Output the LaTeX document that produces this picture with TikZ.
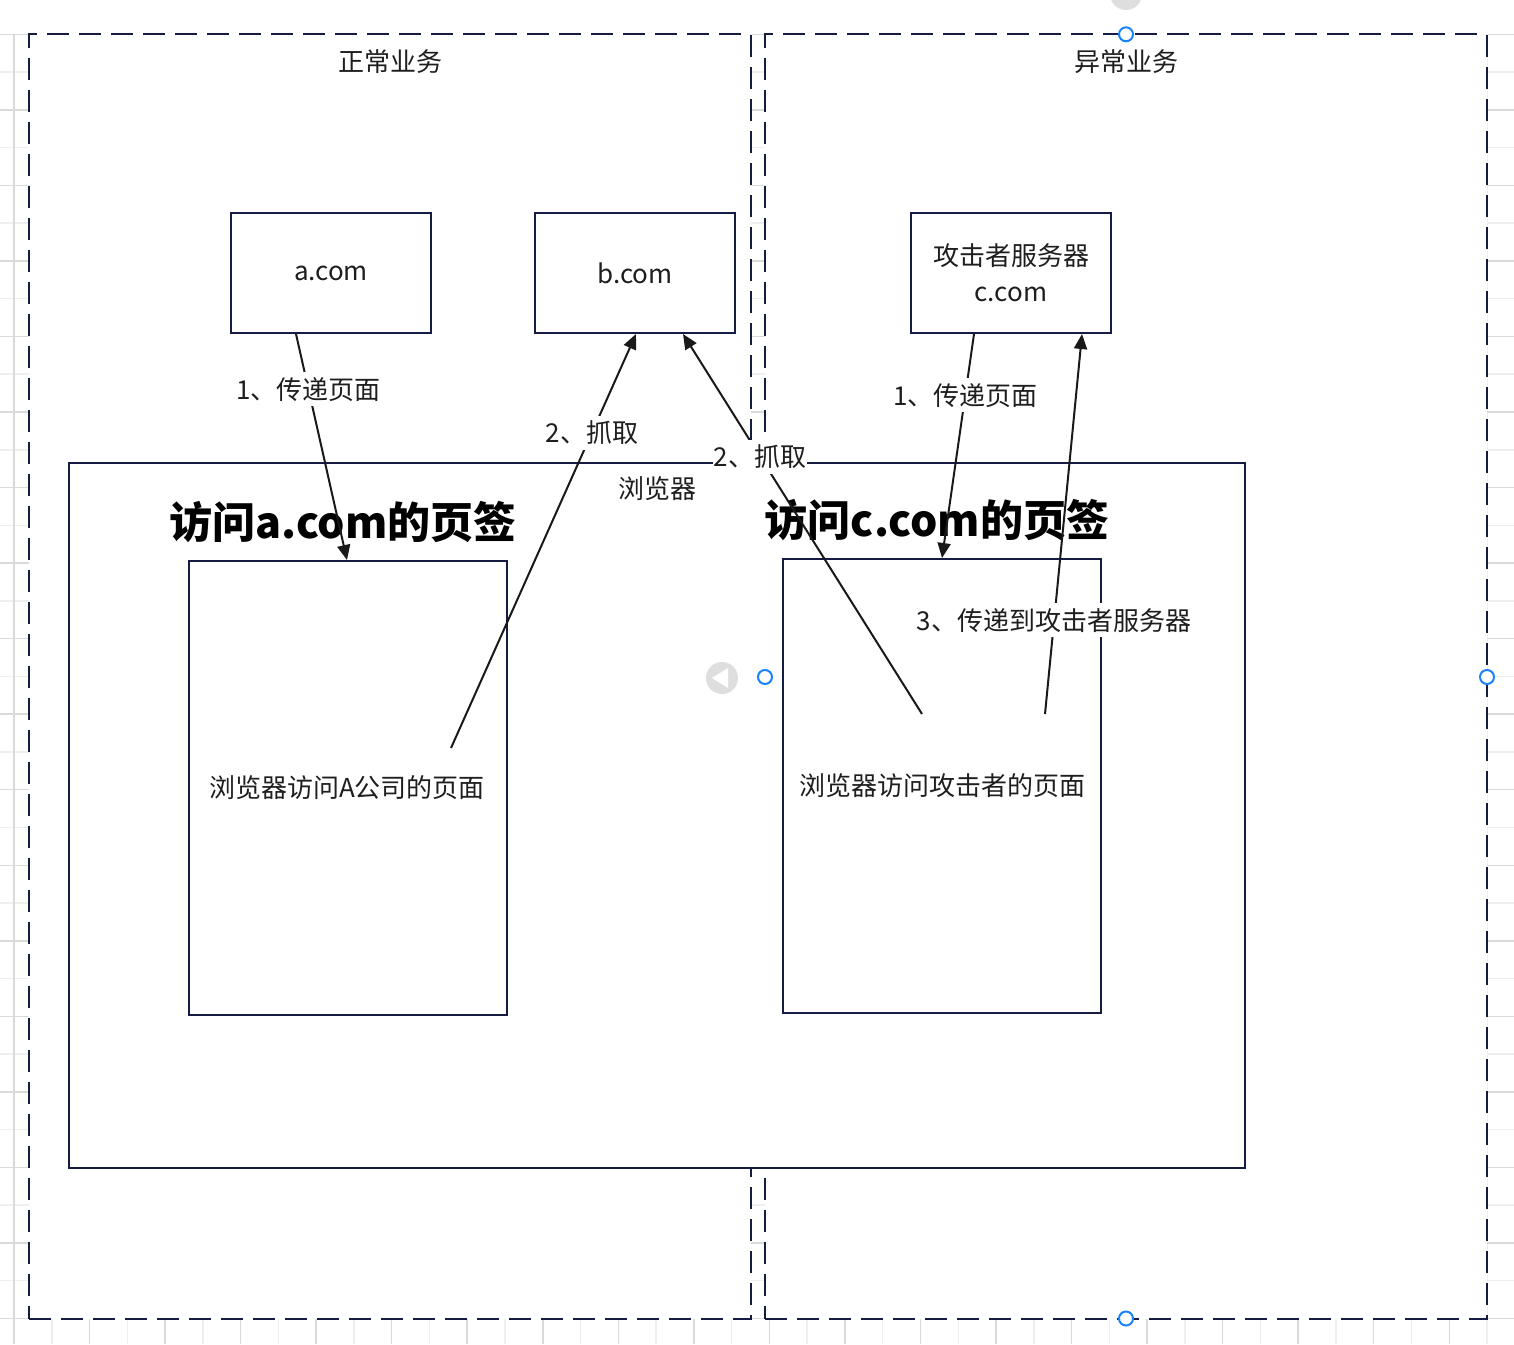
\documentclass[tikz,border=0pt]{standalone}
\usepackage{fontspec}
\setmainfont{Noto Sans CJK SC}
\usetikzlibrary{arrows.meta}
\definecolor{navy}{RGB}{22,27,68}
\definecolor{txt}{RGB}{30,30,30}
\definecolor{gdark}{RGB}{218,218,218}
\definecolor{glight}{RGB}{238,238,238}
\definecolor{hblue}{RGB}{26,130,250}
\definecolor{hgray}{RGB}{222,222,222}
\tikzset{
  dashbox/.style={draw=navy, line width=2pt, fill=white, dash pattern=on 22pt off 10pt, inner sep=0pt},
  solidbox/.style={draw=navy, line width=2pt, fill=white, inner sep=0pt, text=txt, font=\fontsize{26}{36}\selectfont, align=center},
  plaintext/.style={text=txt, font=\fontsize{26}{31}\selectfont, inner sep=0pt},
  titletext/.style={text=black, font=\fontsize{43}{50}\selectfont\bfseries, inner sep=0pt},
  conn/.style={draw=black!90, line width=2pt, -{Triangle[length=15pt,width=13pt]}},
  lbl/.style={fill=white, text=txt, font=\fontsize{26}{31}\selectfont, inner xsep=1pt, inner ysep=5pt},
  handle/.style={circle, draw=hblue, line width=2pt, fill=white, minimum size=14pt, inner sep=0pt},
}
\begin{document}
\begin{tikzpicture}[x=1pt,y=-1pt]
\useasboundingbox (0,0) rectangle (1514,1344);
\clip (0,0) rectangle (1514,1344);
% background grid
\foreach \k in {1,3,...,39} \draw[glight, line width=1.5pt] ({14+37.77*\k},34.3) -- ({14+37.77*\k},1344);
\foreach \k in {1,3,...,33} \draw[glight, line width=1.5pt] (0,{34.3+37.77*\k}) -- (1514,{34.3+37.77*\k});
\foreach \k in {0,2,...,38} \draw[gdark, line width=1.5pt] ({14+37.77*\k},34.3) -- ({14+37.77*\k},1344);
\foreach \k in {0,2,...,34} \draw[gdark, line width=1.5pt] (0,{34.3+37.77*\k}) -- (1514,{34.3+37.77*\k});
% swimlanes
\node[dashbox, minimum width=722pt, minimum height=1284.2pt] (normal) at (390,676.4) {};
\node[dashbox, minimum width=722pt, minimum height=1284.2pt] (abnormal) at (1126,676.4) {};
\node[plaintext] (normallbl) at (390,62) {正常业务};
\node[plaintext] (abnormallbl) at (1126,62) {异常业务};
% servers
\node[solidbox, minimum width=200pt, minimum height=120pt] (acom) at (331,273) {a.com};
\node[solidbox, minimum width=200pt, minimum height=120pt] (bcom) at (635,273) {b.com};
\node[solidbox, minimum width=200pt, minimum height=120pt] (ccom) at (1011,273) {攻击者服务器\\c.com};
% browser
\node[solidbox, minimum width=1176pt, minimum height=705pt] (browser) at (657,815.5) {};
\node[plaintext] (browserlbl) at (657,489) {浏览器};
\node[titletext] (titlea) at (343,522) {访问a.com的页签};
\node[titletext] (titlec) at (937,520) {访问c.com的页签};
\node[solidbox, minimum width=318pt, minimum height=454pt] (pagea) at (348,788) {};
\node[solidbox, minimum width=318pt, minimum height=454pt] (pagec) at (942,786) {};
\node[plaintext] (pagealbl) at (347,788) {浏览器访问A公司的页面};
\node[plaintext] (pageclbl) at (942,786) {浏览器访问攻击者的页面};
% connector free ends
\coordinate (s2) at (451,748);
\coordinate (s3) at (922,714);
\coordinate (s5) at (1045,714);
% connectors
\draw[conn] ([xshift=-35pt]acom.south) -- ([xshift=-1pt]pagea.north) node[lbl, pos=0.245] (l1) {1、传递页面};
\draw[conn] (s2) -- ([xshift=1pt]bcom.south) node[lbl, pos=0.761] (l2) {2、抓取};
\draw[conn] (s3) -- ([xshift=48pt]bcom.south) node[lbl, pos=0.677] (l3) {2、抓取};
\draw[conn] ([xshift=-37pt]ccom.south) -- (pagec.north) node[lbl, pos=0.274] (l4) {1、传递页面};
\draw[conn] (s5) -- ([xshift=71pt]ccom.south) node[lbl, pos=0.247] (l5) {3、传递到攻击者服务器};
% editor handles
\node[handle] (h1) at (1126,34.3) {};
\node[handle] (h2) at (1126,1318.5) {};
\node[handle] (h3) at (765,677) {};
\node[handle] (h4) at (1487,677) {};
\node[circle, fill=hgray, minimum size=32pt, inner sep=0pt] (h5) at (722,678) {};
\fill[white] (712,678) -- (728,668) -- (728,688) -- cycle;
\node[circle, fill=hgray, minimum size=32pt, inner sep=0pt] (h6) at (1126,-6) {};
\end{tikzpicture}
\end{document}
